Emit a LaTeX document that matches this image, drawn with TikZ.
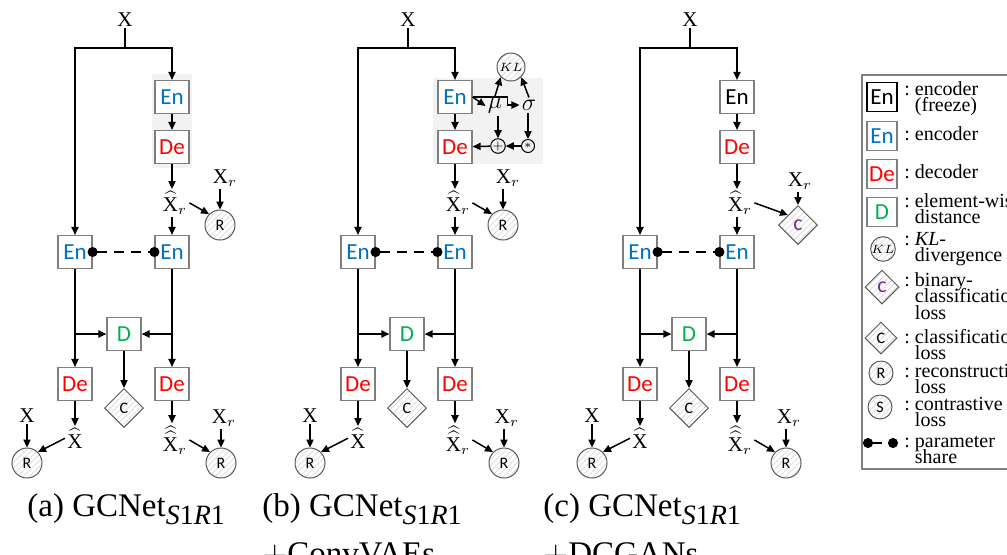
\documentclass[tikz,border=0pt]{standalone}
\usepackage{fontspec}
\setmainfont{Liberation Serif}
\newfontfamily\boxfont{Carlito}
\usetikzlibrary{shapes.geometric, arrows.meta, patterns, positioning}
\definecolor{encblue}{HTML}{0070C0}
\definecolor{decred}{HTML}{FF0000}
\definecolor{distgreen}{HTML}{00B050}
\definecolor{bclspurple}{HTML}{7030A0}
\definecolor{boxgray}{HTML}{7F7F7F}
\definecolor{bggray}{HTML}{F2F2F2}
\definecolor{lossgray}{HTML}{595959}
\newcommand\legtxt[1]{:~\vtop{\baselineskip=8.25pt\lineskiplimit=-10pt #1}}
\newcommand\captxt[1]{\vtop{\baselineskip=24pt\lineskiplimit=-10pt #1}}
\newcommand\netname{GCNet\raisebox{-4pt}{\fontsize{14}{14}\selectfont\textit{S}1\textit{R}1}}

\tikzset{
  blk/.style={draw=boxgray, fill=white, line width=0.6pt, minimum width=17pt, minimum height=16.5pt, inner sep=0pt, font=\boxfont\fontsize{11.5}{12}\selectfont},
  enc/.style={blk, text=encblue},
  dec/.style={blk, text=decred},
  dist/.style={blk, text=distgreen},
  frz/.style={blk, text=black},
  lgbox/.style={minimum width=15pt, minimum height=14.5pt},
  hatch/.style={draw=lossgray, line width=0.5pt, preaction={fill=white}, pattern=north east lines, pattern color=gray!25, inner sep=0pt, font=\boxfont\fontsize{8}{8}\selectfont},
  rec/.style={hatch, circle, minimum size=15pt},
  cls/.style={hatch, diamond, minimum size=19.5pt},
  bcls/.style={cls, text=bclspurple, font=\boxfont\fontsize{11}{11}\selectfont},
  kldiv/.style={hatch, circle, minimum size=14pt, font=\fontsize{6.5}{6.5}\selectfont},
  op/.style={circle, draw, line width=0.5pt, minimum size=6.5pt, inner sep=0pt, font=\fontsize{6}{6}\selectfont},
  lbl/.style={inner sep=1pt, font=\fontsize{10.5}{11}\selectfont},
  greek/.style={inner sep=1pt, font=\fontsize{12}{12}\selectfont},
  line/.style={line width=0.75pt},
  arr/.style={line width=0.75pt, -{Triangle[length=4pt,width=3.6pt]}},
  share/.style={line width=0.9pt, dash pattern=on 5pt off 3.5pt, {Circle[length=5pt]}-{Circle[length=5pt]}, shorten <=-2.5pt, shorten >=-2.5pt},
  legtext/.style={anchor=base west, inner sep=0pt, font=\fontsize{10}{8.25}\selectfont},
  caption/.style={anchor=base west, inner sep=0pt, font=\fontsize{16.5}{19}\selectfont},
}

\begin{document}
\begin{tikzpicture}[x=0.5pt, y=-0.5pt]
\useasboundingbox (0,0) rectangle (1007,554);
\clip (0,0) rectangle (1007,554);

% shaded generator blocks
\fill[bggray] (152,74) rectangle (192,168);
\fill[bggray] (433,78) rectangle (543,164);

% the part all three nets share
\foreach \dx/\p/\topst in {0/a/enc, 283/b/enc, 565/c/frz} {
  \begin{scope}[shift={(\dx,0)}]
    \node[lbl, anchor=base] (x-\p) at (125,26) {$\mathrm{X}$};
    \coordinate (split-\p) at (125,48);
    \node[\topst] (encT-\p) at (172,97) {En};
    \node[dec] (decT-\p) at (172,147) {De};
    \node[lbl, anchor=base] (xhr-\p) at (175,211) {$\widehat{\mathrm{X}}_r$};
    \node[enc] (encL-\p) at (75,252) {En};
    \node[enc] (encR-\p) at (172,252) {En};
    \node[dist] (dist-\p) at (124,334) {D};
    \node[dec] (decL-\p) at (75,384) {De};
    \node[dec] (decR-\p) at (172,384) {De};
    \node[cls] (cls-\p) at (124,408) {C};
    \node[lbl, anchor=base] (xl-\p) at (27,422) {$\mathrm{X}$};
    \node[lbl, anchor=base] (xh-\p) at (75,448) {$\widehat{\mathrm{X}}$};
    \node[rec] (recL-\p) at (27,463) {R};
    \node[lbl, anchor=base] (xhh-\p) at (175,451) {$\widehat{\widehat{\mathrm{X}}}_r$};
    \node[lbl, anchor=base] (xr-\p) at (224,423) {$\mathrm{X}_r$};
    \node[rec] (recR-\p) at (221,463) {R};

    \draw[line] (x-\p) -- (split-\p);
    \draw[arr] (split-\p) -| (encL-\p);
    \draw[arr] (split-\p) -| (encT-\p);
    \draw[arr] (encT-\p) -- (decT-\p);
    \draw[arr] (decT-\p) -- (decT-\p |- xhr-\p.north);
    \draw[arr] (encR-\p |- xhr-\p.south) -- (encR-\p);
    \draw[share] (encL-\p.east) -- (encR-\p.west);
    \draw[arr] (encL-\p) -- (decL-\p);
    \draw[arr] (encR-\p) -- (decR-\p);
    \draw[arr] (encL-\p |- dist-\p) -- (dist-\p);
    \draw[arr] (encR-\p |- dist-\p) -- (dist-\p);
    \draw[arr] (dist-\p) -- (cls-\p);
    \draw[arr] (decL-\p) -- (xh-\p);
    \draw[arr] (decR-\p) -- (decR-\p |- xhh-\p.north);
    \draw[arr] (recL-\p |- xl-\p.south) -- (recL-\p);
    \draw[arr] (xh-\p.west) -- (recL-\p.north east);
    \draw[arr] (recR-\p |- xr-\p.south) -- (recR-\p);
    \draw[arr] (xhh-\p.east) -- (recR-\p.north west);
  \end{scope}
}

% reconstruction of X_r in (a) and (b)
\foreach \dx/\p in {0/a, 283/b} {
  \begin{scope}[shift={(\dx,0)}]
    \node[lbl, anchor=base] (xr2-\p) at (225,183) {$\mathrm{X}_r$};
    \node[rec] (rec2-\p) at (220,225) {R};
    \draw[arr] (rec2-\p |- xr2-\p.south) -- (rec2-\p);
    \draw[arr] (xhr-\p.east) -- (rec2-\p.north west);
  \end{scope}
}

% VAE sampling in (b)
\node[greek] (mu) at (495,106) {$\mu$};
\node[greek] (sigma) at (529,105) {$\sigma$};
\node[kldiv] (kl) at (511,67) {$KL$};
\node[op] (plus) at (498,146) {$+$};
\node[op] (ast) at (528,146) {$\ast$};
\draw[arr] (encT-b.east) -- (mu.west);
\draw[arr] (encT-b.east) -- ++(35,0) |- (sigma.west);
\draw[arr] (mu.north) -- (kl.south west);
\draw[arr] (sigma.north) -- (kl.south east);
\draw[arr] (plus |- mu.south) -- (plus);
\draw[arr] (ast |- sigma.south) -- (ast);
\draw[arr] (ast) -- (plus);
\draw[arr] (plus) -- (decT-b);

% discriminator in (c)
\node[lbl, anchor=base] (xr2-c) at (800,186) {$\mathrm{X}_r$};
\node[bcls] (bcls-c) at (798,225) {c};
\draw[arr] (bcls-c |- xr2-c.south) -- (bcls-c);
\draw[arr] (xhr-c.east) -- (bcls-c.north west);

% legend
\draw[boxgray, line width=0.6pt] (862,75) rectangle (1040,469);
\node[frz, lgbox, draw=black] (lg-frz) at (882,97) {En};
\node[enc, lgbox] (lg-enc) at (882,136) {En};
\node[dec, lgbox] (lg-dec) at (882,174) {De};
\node[dist, lgbox] (lg-dist) at (882,212) {D};
\node[kldiv, minimum size=12pt] (lg-kl) at (883,249) {$KL$};
\node[bcls, minimum size=17pt] (lg-bcls) at (882,287) {c};
\node[cls, minimum size=16pt] (lg-cls) at (881,338) {C};
\node[rec, minimum size=12pt] (lg-rec) at (881,373) {R};
\node[rec, minimum size=12pt] (lg-con) at (880,407) {S};
\coordinate (lg-sa) at (868,443);
\coordinate (lg-sb) at (893,443);
\draw[share] (lg-sa) -- (lg-sb);
\node[legtext] at (904,95) {\legtxt{\hbox{encoder}\hbox{(freeze)}}};
\node[legtext] at (904,140) {\legtxt{\hbox{encoder}}};
\node[legtext] at (904,178) {\legtxt{\hbox{decoder}}};
\node[legtext] at (904,207) {\legtxt{\hbox{element-wise}\hbox{distance}}};
\node[legtext] at (904,245) {\legtxt{\hbox{\textit{KL}-}\hbox{divergence}}};
\node[legtext] at (904,286) {\legtxt{\hbox{binary-}\hbox{classification}\hbox{loss}}};
\node[legtext] at (904,343) {\legtxt{\hbox{classification}\hbox{loss}}};
\node[legtext] at (904,377) {\legtxt{\hbox{reconstruction}\hbox{loss}}};
\node[legtext] at (904,410) {\legtxt{\hbox{contrastive}\hbox{loss}}};
\node[legtext] at (904,447) {\legtxt{\hbox{parameter}\hbox{share}}};

% captions
\node[caption] (cap-a) at (27,516) {\captxt{\hbox{(a) \netname}}};
\node[caption] (cap-b) at (262,516) {\captxt{\hbox{(b) \netname}\hbox{$+$ConvVAEs}}};
\node[caption] (cap-c) at (543,516) {\captxt{\hbox{(c) \netname}\hbox{$+$DCGANs}}};
\end{tikzpicture}
\end{document}
